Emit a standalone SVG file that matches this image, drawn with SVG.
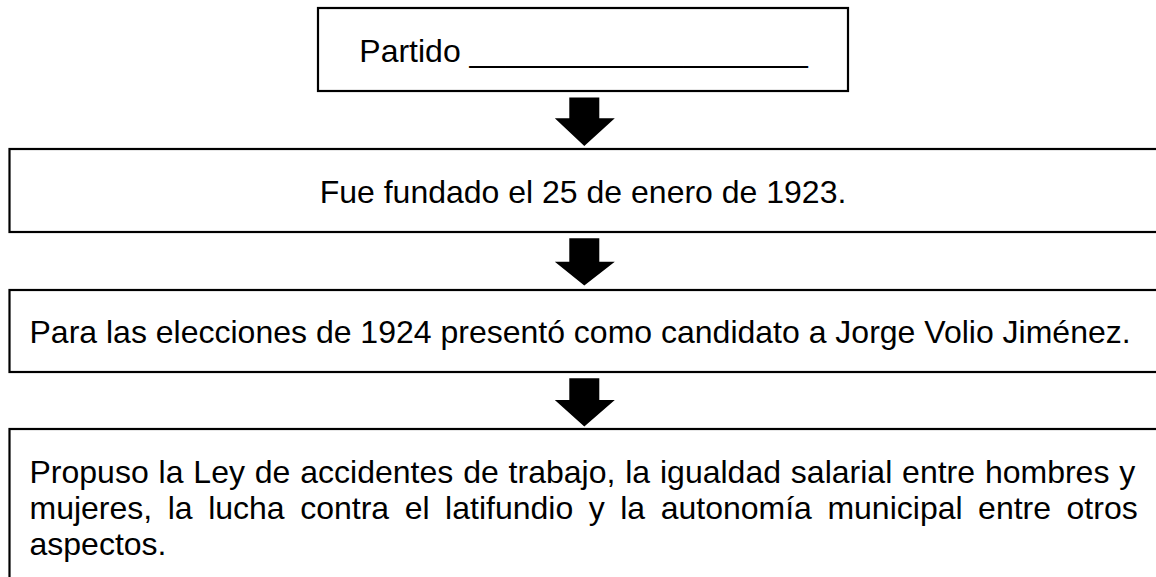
<svg xmlns="http://www.w3.org/2000/svg" width="1156" height="577" viewBox="0 0 1156 577">
<style>
.box{fill:#fff;stroke:#000;stroke-width:2.2}
.t{font-family:"Liberation Sans",Arial,sans-serif;font-size:32px;fill:#000}
.arr{fill:#000}
</style>
<rect width="1156" height="577" fill="#fff"/>
<g id="node-partido">
<rect class="box" x="318" y="8" width="530" height="83"/>
<text class="t" x="583.5" y="62" text-anchor="middle">Partido ___________________</text>
</g>
<g id="node-fundado">
<rect class="box" x="9.5" y="149" width="1160" height="83"/>
<text class="t" x="583" y="203" text-anchor="middle">Fue fundado el 25 de enero de 1923.</text>
</g>
<g id="node-elecciones">
<rect class="box" x="9.5" y="290" width="1160" height="82"/>
<text class="t" x="29.5" y="343">Para las elecciones de 1924 presentó como candidato a Jorge Volio Jiménez.</text>
</g>
<g id="node-propuso">
<rect class="box" x="9.5" y="429" width="1160" height="170"/>
<text class="t" y="483"><tspan x="29.5">Propuso</tspan><tspan x="158.56">la</tspan><tspan x="193.35">Ley</tspan><tspan x="254.82">de</tspan><tspan x="300.29">accidentes</tspan><tspan x="463.14">de</tspan><tspan x="508.61">trabajo,</tspan><tspan x="625.22">la</tspan><tspan x="660.01">igualdad</tspan><tspan x="790.86">salarial</tspan><tspan x="902.09">entre</tspan><tspan x="984.91">hombres</tspan><tspan x="1119.28">y</tspan></text>
<text class="t" y="519"><tspan x="29.5">mujeres,</tspan><tspan x="167.73">la</tspan><tspan x="208.17">lucha</tspan><tspan x="300.19">contra</tspan><tspan x="404.66">el</tspan><tspan x="445.10">latifundio</tspan><tspan x="588.70">y</tspan><tspan x="620.24">la</tspan><tspan x="660.68">autonomía</tspan><tspan x="827.42">municipal</tspan><tspan x="978.10">entre</tspan><tspan x="1066.57">otros</tspan></text>
<text class="t" x="29.5" y="555">aspectos.</text>
</g>
<g id="connectors">
<polygon class="arr" points="569.3,97.5 599.3,97.5 599.3,118.3 614.8,118.3 584.3,146 554.8,118.3 569.3,118.3"/>
<polygon class="arr" points="569.3,238.3 599.3,238.3 599.3,261.7 614.8,261.7 584.3,285.5 554.8,261.7 569.3,261.7"/>
<polygon class="arr" points="569.3,378.3 599.3,378.3 599.3,400 614.8,400 584.3,426.5 554.8,400 569.3,400"/>
</g>
</svg>
